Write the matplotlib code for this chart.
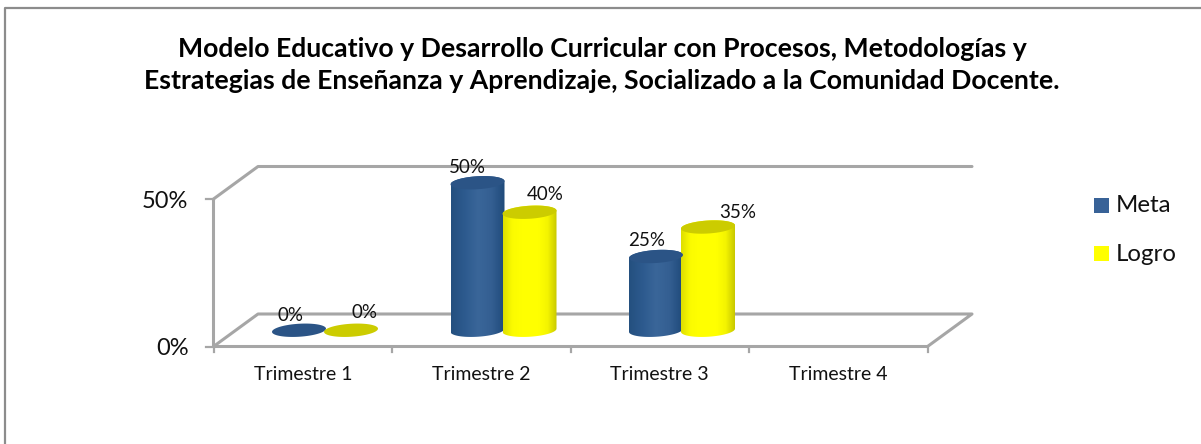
import numpy as np
import matplotlib
matplotlib.use("Agg")
import matplotlib.pyplot as plt
from matplotlib.colors import LinearSegmentedColormap
from matplotlib.lines import Line2D
from matplotlib.patches import Polygon, Rectangle

categories = ["Trimestre 1", "Trimestre 2", "Trimestre 3", "Trimestre 4"]
meta = [0, 50, 25, None]
logro = [0, 40, 35, None]
y_ticks = [0, 50]
title_lines = "Modelo Educativo y Desarrollo Curricular con Procesos, Metodologías y\nEstrategias de Enseñanza y Aprendizaje, Socializado a la Comunidad Docente."

W, H = 1201, 444
plt.rcParams["font.family"] = ["Lato", "DejaVu Sans"]
fig = plt.figure(figsize=(W / 100, H / 100), dpi=100)
fig.patch.set_facecolor("white")

# outer frame of the chart, only top and left show in the crop
fig.add_artist(Line2D([5 / W, 5 / W, 1], [0, 1 - 8 / H, 1 - 8 / H], transform=fig.transFigure,
                      color="#8c8c8c", lw=1.6))

# axes sit on the front edge of the 3d floor
x0, x1, y0, y50 = 213.5, 927.5, 346.5, 199
ax = fig.add_axes([x0 / W, 1 - y0 / H, (x1 - x0) / W, (y0 - y50) / H])
ax.patch.set_visible(False)
for s in ax.spines.values():
    s.set_visible(False)

px = 4 / (x1 - x0)           # data units per pixel in x
py = 50 / (y0 - y50)         # data units per pixel in y
depth_x, depth_y = 44.5 * px, 32.5 * py
wall = "#a6a6a6"
wall_kw = dict(color=wall, lw=2.2, solid_capstyle="round", clip_on=False, zorder=1)

# floor, back wall lines and left side wall
ax.plot([0, 4, 4 + depth_x, depth_x, 0], [0, 0, depth_y, depth_y, 0], **wall_kw)
ax.plot([0, 0, depth_x, 4 + depth_x], [0, 50, 50 + depth_y, 50 + depth_y], **wall_kw)
for t in range(5):
    ax.plot([t, t], [0, -5 * py], color=wall, lw=1.6, clip_on=False, zorder=1)
for v in y_ticks:
    ax.plot([0, -8 * px], [v, v], color=wall, lw=1.6, clip_on=False, zorder=1)
    ax.text(-25 * px, v - 2 * py, f"{v}%", ha="right", va="center", fontsize=17, color="#111111")

for t, name in enumerate(categories):
    ax.text(t + 0.5, -28.5 * py, name, ha="center", va="center", fontsize=14, color="#111111")

blue_map = LinearSegmentedColormap.from_list("b", ["#24507f", "#2d5a8e", "#3a6699", "#345f92", "#1f4a7a"])
yellow_map = LinearSegmentedColormap.from_list("y", ["#dede00", "#fbfb00", "#ffff00", "#ffff00", "#ffff00", "#f4f400", "#c8c800"])
series = [(meta, blue_map, "#2b5486", -1), (logro, yellow_map, "#cccc00", 1)]
bar_w = 54 * px
ell_h = 13 * py
bar_off = 26 * px
grad = np.linspace(0, 1, 128).reshape(1, -1)


def rim(cx, cy, t):
    # slanted ellipse, right side sits a little higher than the left
    return np.c_[cx + bar_w / 2 * np.cos(t), cy + ell_h / 2 * np.sin(t) + 1.6 * py * np.cos(t)]


for values, cmap, top_color, side in series:
    for i, v in enumerate(values):
        if v is None:
            continue
        cx = i + 0.5 + depth_x / 2 + side * bar_off
        base = depth_y / 2
        if v > 0:
            bottom = rim(cx, base, np.linspace(np.pi, 2 * np.pi, 60))
            top = rim(cx, base + v, np.linspace(0, np.pi, 60))
            body = Polygon(np.r_[bottom, top], closed=True, fc="none", ec="none", zorder=3 + i, clip_on=False)
            ax.add_patch(body)
            im = ax.imshow(grad, cmap=cmap, aspect="auto", zorder=3 + i, interpolation="bilinear",
                           extent=[cx - bar_w / 2, cx + bar_w / 2, base - ell_h, base + v + ell_h])
            im.set_clip_box(fig.bbox)
            im.set_clip_path(body)
        ax.add_patch(Polygon(rim(cx, base + v, np.linspace(0, 2 * np.pi, 80)), closed=True,
                             fc=top_color, ec="none", zorder=4 + i, clip_on=False))

# data labels, each one placed by hand next to its bar
label_dx = {"meta": [-9, -10, -9], "logro": [14, 16, 30]}
label_dy = {"meta": [15, 15, 16], "logro": [18, 18, 15]}
for key, values, side in [("meta", meta, -1), ("logro", logro, 1)]:
    for i, v in enumerate(values[:3]):
        cx = i + 0.5 + depth_x / 2 + side * bar_off
        ax.text(cx + label_dx[key][i] * px, depth_y / 2 + v + label_dy[key][i] * py, f"{v}%",
                ha="center", va="center", fontsize=13.5, color="#111111", zorder=20, clip_on=False)

ax.set_xlim(0, 4)
ax.set_ylim(0, 50)
ax.set_xticks([])
ax.set_yticks([])

fig.text(602 / W, 1 - 65 / H, title_lines, ha="center", va="center", fontsize=19.2,
         fontweight="bold", color="black", linespacing=1.38)

# legend
fig.add_artist(Rectangle((1094 / W, 1 - 213 / H), 15 / W, 15 / H, transform=fig.transFigure, fc="#386297", ec="none"))
fig.add_artist(Rectangle((1094 / W, 1 - 261 / H), 15 / W, 15 / H, transform=fig.transFigure, fc="#ffff00", ec="none"))
fig.text(1116 / W, 1 - 206 / H, "Meta", ha="left", va="center", fontsize=17.3, color="#111111")
fig.text(1116 / W, 1 - 254 / H, "Logro", ha="left", va="center", fontsize=17.3, color="#111111")

fig.savefig("out.png", dpi=100)
